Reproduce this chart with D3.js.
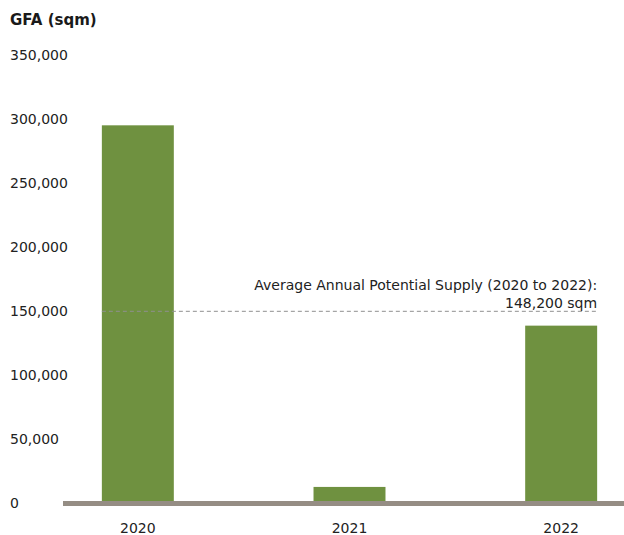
<!DOCTYPE html>
<html>
<head>
<meta charset="utf-8">
<script src="https://cdn.jsdelivr.net/npm/d3@7"></script>
<style>
  html, body { margin: 0; padding: 0; background: #fff; }
  svg { display: block; font-family: "DejaVu Sans", sans-serif; }
</style>
</head>
<body>
<svg id="chart" width="624" height="535"></svg>
<script>
// Potential GFA supply by year
const years = ["2020", "2021", "2022"];
const supply = [293500, 11000, 137000];
const averageSupply = 148200;
const yTicks = [0, 50000, 100000, 150000, 200000, 250000, 300000, 350000];
const titleText = "GFA (sqm)";
const noteLines = ["Average Annual Potential Supply (2020 to 2022):", "148,200 sqm"];

const svg = d3.select("#chart");
const W = 624;
const FONT = "'DejaVu Sans', sans-serif";

const x = d3.scaleBand()
  .domain(years)
  .range([32, 667])
  .paddingInner(0.66)
  .paddingOuter(0.33);

const y = d3.scaleLinear()
  .domain([0, 350000])
  .range([501, 53]);

// Title
svg.append("text")
  .attr("x", 10).attr("y", 25)
  .attr("font-size", 15).attr("font-weight", 700)
  .attr("font-family", FONT)
  .attr("fill", "#1a1a1a")
  .text(titleText);

// Y axis labels (left aligned, no axis line)
const yAxis = d3.axisLeft(y)
  .tickValues(yTicks)
  .tickFormat(d3.format(","))
  .tickSize(0);
const gy = svg.append("g").attr("transform", "translate(10,2)").call(yAxis);
gy.select(".domain").remove();
gy.selectAll("text")
  .attr("x", 0)
  .attr("text-anchor", "start")
  .attr("font-size", 14)
  .attr("font-family", FONT)
  .attr("fill", "#222");

// Bars
svg.append("g").selectAll("rect")
  .data(years.map((d, i) => ({ year: d, value: supply[i] })))
  .join("rect")
  .attr("x", d => x(d.year))
  .attr("width", x.bandwidth())
  .attr("y", d => y(d.value))
  .attr("height", d => y(0) - y(d.value))
  .attr("fill", "#6f9140");

// Baseline band
svg.append("rect")
  .attr("x", 63).attr("width", W - 63)
  .attr("y", y(0)).attr("height", 5)
  .attr("fill", "#958d84");

// X axis labels
const xAxis = d3.axisBottom(x).tickSize(0);
const gx = svg.append("g").attr("transform", `translate(0,${y(0) + 19})`).call(xAxis);
gx.select(".domain").remove();
gx.selectAll("text")
  .attr("font-size", 14)
  .attr("font-family", FONT)
  .attr("fill", "#222");

// Average line
const avgY = y(averageSupply);
svg.append("line")
  .attr("x1", x(years[0])).attr("x2", x(years[2]) + x.bandwidth())
  .attr("y1", avgY).attr("y2", avgY)
  .attr("stroke", "#8f8f8f")
  .attr("stroke-width", 1)
  .attr("stroke-dasharray", "4,3");

// Average annotation
const noteX = x(years[2]) + x.bandwidth();
svg.append("text")
  .attr("x", noteX).attr("y", avgY - 21)
  .attr("text-anchor", "end")
  .attr("font-size", 14)
  .attr("font-family", FONT)
  .attr("fill", "#222")
  .text(noteLines[0]);
svg.append("text")
  .attr("x", noteX).attr("y", avgY - 3)
  .attr("text-anchor", "end")
  .attr("font-size", 14)
  .attr("font-family", FONT)
  .attr("fill", "#222")
  .text(noteLines[1]);
</script>
</body>
</html>
